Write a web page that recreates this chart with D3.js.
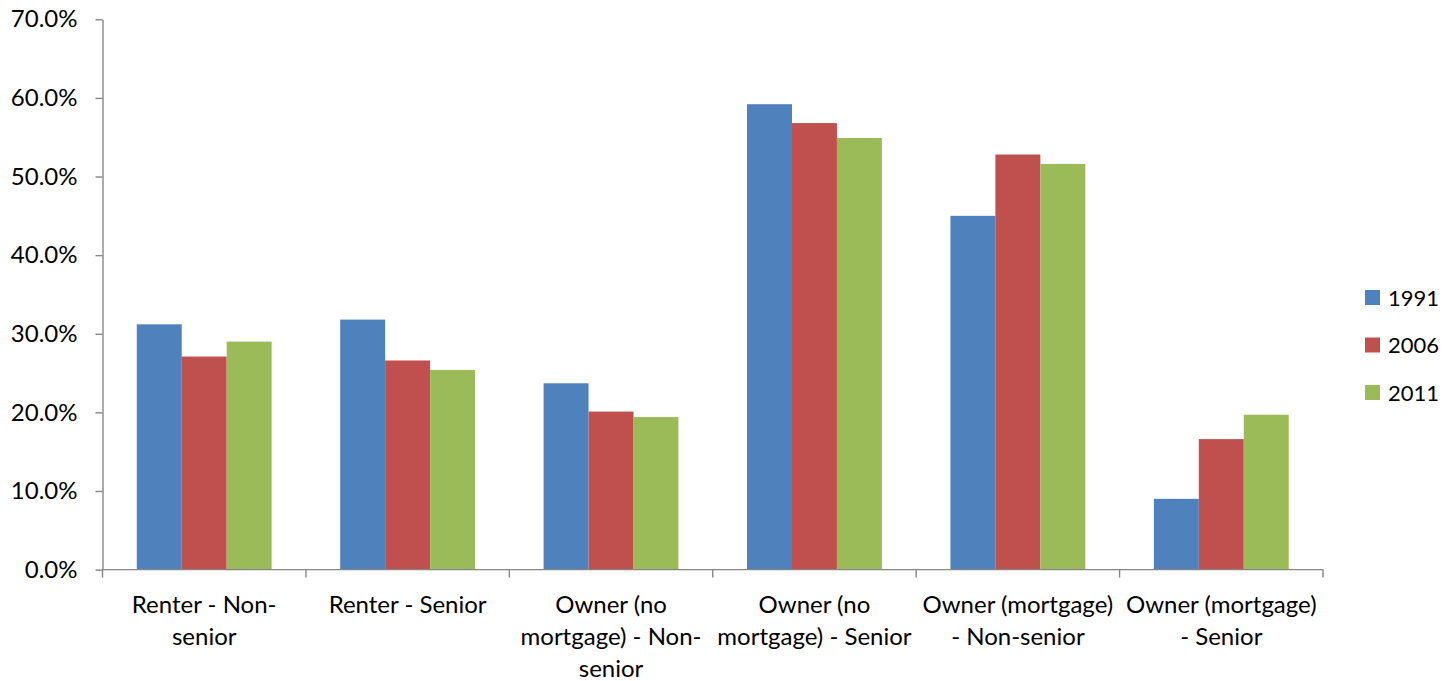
<!DOCTYPE html>
<html>
<head>
<meta charset="utf-8">
<script src="https://cdn.jsdelivr.net/npm/d3@7"></script>
<style>
  html, body { margin: 0; padding: 0; background: #fff; }
  svg text { font-family: "Lato", "Open Sans", sans-serif; fill: #000; }
</style>
</head>
<body>
<svg id="chart" width="1445" height="681"></svg>
<script>
// Household groups (each label already split into its display lines)
const categories = [
  "Renter - Non-senior",
  "Renter - Senior",
  "Owner (no mortgage) - Non-senior",
  "Owner (no mortgage) - Senior",
  "Owner (mortgage) - Non-senior",
  "Owner (mortgage) - Senior"
];
const categoryLines = [
  ["Renter - Non-", "senior"],
  ["Renter - Senior"],
  ["Owner (no", "mortgage) - Non-", "senior"],
  ["Owner (no", "mortgage) - Senior"],
  ["Owner (mortgage)", "- Non-senior"],
  ["Owner (mortgage)", "- Senior"]
];

// Census years and their shares (fraction of households)
const years = ["1991", "2006", "2011"];
const values1991 = [0.312, 0.318, 0.237, 0.592, 0.450, 0.090];
const values2006 = [0.271, 0.266, 0.201, 0.568, 0.528, 0.166];
const values2011 = [0.290, 0.254, 0.194, 0.549, 0.516, 0.197];
const seriesValues = [values1991, values2006, values2011];
const colors = ["#4F81BD", "#C0504D", "#9BBB59"];

const yTicks = [0, 0.1, 0.2, 0.3, 0.4, 0.5, 0.6, 0.7];

const svg = d3.select("#chart");
const plotLeft = 102.5, plotRight = 1323, plotTop = 19.3, plotBottom = 569.6;
const axisColor = "#868686";
const fontSize = 24;
const legendFontSize = 22;

const x = d3.scaleBand().domain(categories).range([plotLeft, plotRight])
  .paddingInner(0.337).paddingOuter(0.1685);
const xs = d3.scaleBand().domain(years).range([0, x.bandwidth()]).padding(0);
const y = d3.scaleLinear().domain([0, 0.7]).range([plotBottom, plotTop]);

// Bars
const groups = svg.append("g").selectAll("g")
  .data(years)
  .join("g")
  .attr("fill", (d, i) => colors[i]);

groups.selectAll("rect")
  .data((yr, i) => seriesValues[i].map((v, j) => ({ cat: categories[j], yr, v })))
  .join("rect")
  .attr("x", d => x(d.cat) + xs(d.yr))
  .attr("width", xs.bandwidth())
  .attr("y", d => y(d.v))
  .attr("height", d => y(0) - y(d.v));

// Y axis
const yAxis = svg.append("g")
  .attr("transform", `translate(${plotLeft},0)`)
  .call(d3.axisLeft(y).tickValues(yTicks).tickFormat(d3.format(".1%")).tickSize(7).tickSizeOuter(0).tickPadding(18));
yAxis.select(".domain").attr("stroke", axisColor).attr("stroke-width", 1.4);
yAxis.selectAll(".tick line").attr("stroke", axisColor).attr("stroke-width", 1.4);
yAxis.selectAll(".tick text").attr("font-size", fontSize).attr("fill", "#000")
  .style("font-family", "Lato, 'Open Sans', sans-serif");

// X axis baseline with category boundary ticks
const boundaries = categories.map(c => x(c) - x.step() * x.paddingInner() / 2)
  .concat([plotRight]);
const xAxis = svg.append("g");
xAxis.append("line")
  .attr("x1", plotLeft).attr("x2", plotRight)
  .attr("y1", y(0)).attr("y2", y(0))
  .attr("stroke", axisColor).attr("stroke-width", 1.4);
xAxis.selectAll("line.tick")
  .data(boundaries)
  .join("line")
  .attr("class", "tick")
  .attr("x1", d => d).attr("x2", d => d)
  .attr("y1", y(0)).attr("y2", y(0) + 8)
  .attr("stroke", axisColor).attr("stroke-width", 1.4);

// Category labels
const labels = svg.append("g").selectAll("text")
  .data(categories)
  .join("text")
  .attr("text-anchor", "middle")
  .attr("font-size", fontSize)
  .attr("x", d => x(d) + x.bandwidth() / 2)
  .attr("y", 613);
labels.selectAll("tspan")
  .data((d, i) => categoryLines[i])
  .join("tspan")
  .attr("x", function () { return this.parentNode.getAttribute("x"); })
  .attr("dy", (d, i) => i === 0 ? 0 : 32)
  .text(d => d);

// Legend
const legend = svg.append("g").selectAll("g")
  .data(years)
  .join("g")
  .attr("transform", (d, i) => `translate(1365, ${290 + i * 47.5})`);
legend.append("rect")
  .attr("width", 15).attr("height", 15)
  .attr("fill", (d, i) => colors[i]);
legend.append("text")
  .attr("x", 23).attr("y", 15.5)
  .attr("font-size", legendFontSize)
  .text(d => d);
</script>
</body>
</html>
